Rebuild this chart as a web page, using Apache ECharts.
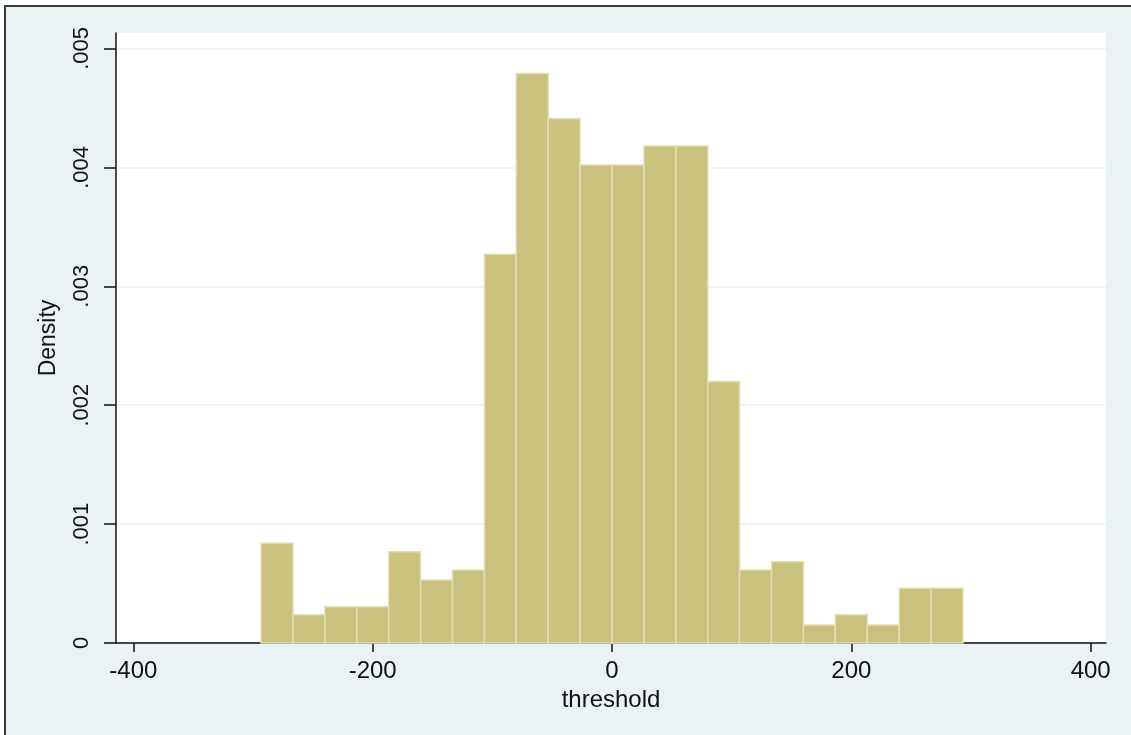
<!DOCTYPE html>
<html>
<head>
<meta charset="utf-8">
<script src="https://cdn.jsdelivr.net/npm/echarts@6/dist/echarts.min.js"></script>
<style>html,body{margin:0;padding:0;background:#fff;}#c{width:1131px;height:735px;}</style>
</head>
<body>
<div id="c"></div>
<script>
// Histogram bin edges (threshold)
const binEdges = [-293.3, -266.6, -240.0, -213.3, -186.6, -160.0, -133.3, -106.6, -80.0, -53.3, -26.7, 0,
  26.7, 53.3, 80.0, 106.6, 133.3, 160.0, 186.6, 213.3, 240.0, 266.6, 293.3];
// Density of each bin
const densities = [0.000838, 0.000238, 0.000305, 0.000305, 0.000767, 0.000529, 0.000613, 0.00327,
  0.00479, 0.00441, 0.00402, 0.00402, 0.00418, 0.00418, 0.00220, 0.000613, 0.000683, 0.000151,
  0.000238, 0.000151, 0.000460, 0.000460];
const xTicks = [-400, -200, 0, 200, 400];
const yTicks = [0, 0.001, 0.002, 0.003, 0.004, 0.005];
const xTitle = 'threshold';
const yTitle = 'Density';

const data = densities.map((d, i) => [binEdges[i], binEdges[i + 1], d]);
const font = 'Liberation Sans, Arial, sans-serif';

const chart = echarts.init(document.getElementById('c'));
chart.setOption({
  backgroundColor: '#ffffff',
  animation: false,
  graphic: [{
    type: 'rect', z: -10, silent: true,
    shape: { x: 5, y: 6, width: 1140, height: 740 },
    style: { fill: '#eaf2f3', stroke: '#3a3a3a', lineWidth: 2 }
  }],
  grid: {
    left: 116, top: 33, right: 25, bottom: 92,
    show: true, backgroundColor: '#ffffff', borderWidth: 0
  },
  xAxis: {
    type: 'value', min: -414.5, max: 412.8,
    name: xTitle, nameLocation: 'middle', nameGap: 38,
    nameTextStyle: { fontFamily: font, fontSize: 24, color: '#111' },
    axisLine: { show: true, onZero: false, lineStyle: { color: '#111', width: 1.5 } },
    axisTick: { show: true, length: 9, customValues: xTicks, lineStyle: { color: '#111', width: 1.5 } },
    axisLabel: { customValues: xTicks, margin: 16, fontFamily: font, fontSize: 24, color: '#111' },
    splitLine: { show: false }
  },
  yAxis: {
    type: 'value', min: 0, max: 0.00513,
    name: yTitle, nameLocation: 'middle', nameGap: 56, nameRotate: 90,
    nameTextStyle: { fontFamily: font, fontSize: 23, color: '#111' },
    axisLine: { show: true, onZero: false, lineStyle: { color: '#111', width: 1.5 } },
    axisTick: { show: true, length: 12, customValues: yTicks, lineStyle: { color: '#111', width: 1.5 } },
    axisLabel: {
      customValues: yTicks, rotate: 90, margin: 23, fontFamily: font, fontSize: 22, color: '#111',
      formatter: v => v === 0 ? '0' : v.toFixed(3).replace(/^0/, '')
    },
    splitLine: { show: true, lineStyle: { color: '#eaf2f3', width: 1.5 } }
  },
  series: [{
    type: 'custom',
    data: data,
    encode: { x: [0, 1], y: 2 },
    renderItem: function (params, api) {
      const p0 = api.coord([api.value(0), api.value(2)]);
      const p1 = api.coord([api.value(1), 0]);
      return {
        type: 'rect',
        shape: { x: p0[0], y: p0[1], width: p1[0] - p0[0], height: p1[1] - p0[1] },
        style: { fill: '#c9c27f', stroke: '#e2deb2', lineWidth: 1.5 }
      };
    }
  }]
});
</script>
</body>
</html>
